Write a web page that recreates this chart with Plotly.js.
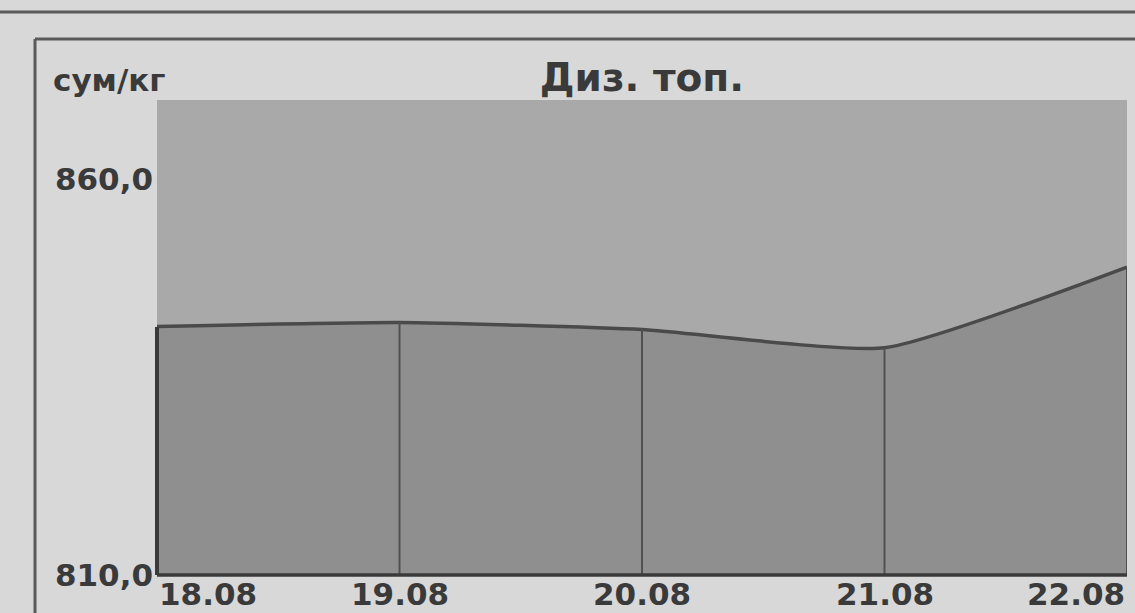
<!DOCTYPE html>
<html>
<head>
<meta charset="utf-8">
<script src="https://cdn.plot.ly/plotly-3.0.1.min.js"></script>
<style>html,body{margin:0;padding:0;background:#d8d8d8;}#chart{width:1135px;height:613px;}</style>
</head>
<body>
<div id="chart"></div>
<script>
// Data
const dates = ["18.08", "19.08", "20.08", "21.08", "22.08"];
const prices = [841.4, 841.9, 841.0, 838.7, 848.9];
const yTickVals = [810, 860];
const yTickText = ["810,0", "860,0"];
const yUnit = "сум/кг";
const chartTitle = "Диз. топ.";
const yMin = 810, yMax = 870;

const xIdx = dates.map((d, i) => i);

// drop lines from each point down to the baseline
const dropX = [], dropY = [];
xIdx.forEach((x, i) => { dropX.push(x, x, null); dropY.push(yMin, prices[i], null); });

const fontFam = '"DejaVu Sans", Arial, sans-serif';
const txtCol = '#3a3a3a';

const traces = [
  {
    x: xIdx, y: prices, type: 'scatter', mode: 'lines',
    fill: 'tozeroy', fillcolor: '#8f8f8f',
    line: {color: '#4a4a4a', width: 3.5, shape: 'spline', smoothing: 0.5},
    hoverinfo: 'skip'
  },
  {
    x: dropX, y: dropY, type: 'scatter', mode: 'lines',
    line: {color: '#505050', width: 2}, hoverinfo: 'skip'
  }
];

const annotations = dates.map((d, i) => ({
  x: i, y: yMin, xref: 'x', yref: 'y',
  text: '<b>' + d + '</b>', showarrow: false,
  xanchor: i === 0 ? 'left' : (i === dates.length - 1 ? 'right' : 'center'),
  yanchor: 'top', yshift: 1,
  font: {family: fontFam, size: 31, color: txtCol}
}));
annotations.push({
  x: -0.109, y: 1.042, xref: 'paper', yref: 'paper',
  text: '<b>' + yUnit + '</b>', showarrow: false, xanchor: 'left', yanchor: 'middle',
  font: {family: fontFam, size: 31, color: txtCol}
});

const layout = {
  width: 1135, height: 613,
  margin: {l: 157, r: 8, t: 100, b: 38},
  paper_bgcolor: '#d8d8d8', plot_bgcolor: '#a9a9a9',
  showlegend: false,
  title: {
    text: '<b>' + chartTitle + '</b>', x: 0.5, xref: 'paper', xanchor: 'center',
    y: 1 - 77 / 613, yref: 'container', yanchor: 'middle',
    font: {family: fontFam, size: 39, color: txtCol}
  },
  xaxis: {
    range: [0, dates.length - 1], showgrid: false, zeroline: false,
    showticklabels: false, ticks: '', showline: false, fixedrange: true
  },
  yaxis: {
    range: [yMin, yMax], tickvals: yTickVals, ticktext: yTickText,
    showgrid: false, zeroline: false, ticks: '', ticklabelstandoff: 3,
    tickfont: {family: fontFam, size: 31, color: txtCol, weight: 'bold'},
    showline: false, fixedrange: true
  },
  annotations: annotations,
  shapes: [
    // axis lines
    {type: 'line', xref: 'paper', yref: 'paper', x0: 0, x1: 0, y0: 0, y1: (575 - 327) / 475, line: {color: '#3a3a3a', width: 4}},
    {type: 'line', xref: 'paper', yref: 'paper', x0: 0, x1: 1, y0: 0, y1: 0, line: {color: '#3a3a3a', width: 3.5}},
    // page frame
    {type: 'line', xref: 'paper', yref: 'paper', x0: -0.2, x1: 1.05, y0: (575 - 12) / 475, y1: (575 - 12) / 475, line: {color: '#5a5a5a', width: 3}},
    {type: 'line', xref: 'paper', yref: 'paper', x0: (35 - 157) / 970, x1: 1.05, y0: (575 - 39) / 475, y1: (575 - 39) / 475, line: {color: '#5a5a5a', width: 3}},
    {type: 'line', xref: 'paper', yref: 'paper', x0: (35 - 157) / 970, x1: (35 - 157) / 970, y0: (575 - 39) / 475, y1: -0.2, line: {color: '#5a5a5a', width: 3}}
  ]
};

Plotly.newPlot('chart', traces, layout, {displayModeBar: false, staticPlot: true});
</script>
</body>
</html>
